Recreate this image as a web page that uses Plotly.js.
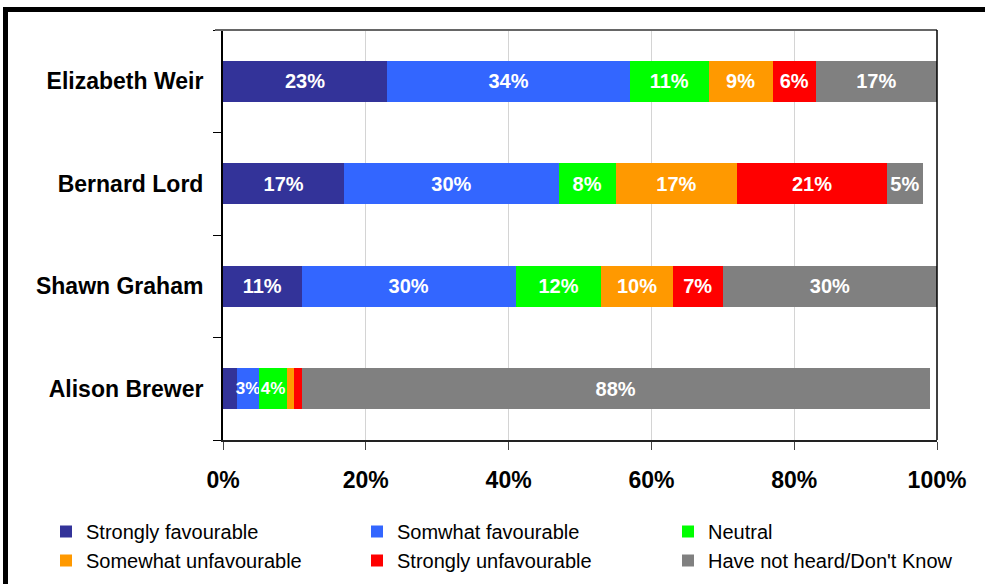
<!DOCTYPE html>
<html>
<head>
<meta charset="utf-8">
<script src="https://cdn.plot.ly/plotly-3.0.1.min.js"></script>
<style>
html,body{margin:0;padding:0;background:#fff;}
#chart{width:985px;height:584px;}
</style>
</head>
<body>
<div id="chart"></div>
<script>
const candidates = ["Elizabeth Weir", "Bernard Lord", "Shawn Graham", "Alison Brewer"];
const seriesNames = ["Strongly favourable", "Somwhat favourable", "Neutral", "Somewhat unfavourable", "Strongly unfavourable", "Have not heard/Don't Know"];
const stronglyFav = [23, 17, 11, 2];
const somewhatFav = [34, 30, 30, 3];
const neutral = [11, 8, 12, 4];
const somewhatUnfav = [9, 17, 10, 1];
const stronglyUnfav = [6, 21, 7, 1];
const notHeard = [17, 5, 30, 88];
const xTickVals = [0, 20, 40, 60, 80, 100];
const xTickText = ["0%", "20%", "40%", "60%", "80%", "100%"];
const colors = ["#333399", "#3366FF", "#00FF00", "#FF9900", "#FF0000", "#808080"];

const allSeries = [stronglyFav, somewhatFav, neutral, somewhatUnfav, stronglyUnfav, notHeard];
const FONT = "'Liberation Sans', Arial, Helvetica, sans-serif";

const traces = allSeries.map((vals, i) => ({
  type: "bar",
  orientation: "h",
  name: seriesNames[i],
  y: candidates,
  x: vals,
  width: 0.4,
  marker: {color: colors[i], line: {width: 0}},
  text: vals.map(v => v >= 3 ? v + "%" : ""),
  textposition: "inside",
  insidetextanchor: "middle",
  constraintext: "none",
  textangle: 0,
  textfont: {family: FONT, size: vals.map(v => v < 5 ? 17 : 20), color: "#ffffff", weight: "bold"},
  hoverinfo: "name+x"
}));

// pixel helpers for paper coords
const L = 223, R = 48, T = 30, B = 144, W = 985, H = 584;
const pw = W - L - R, ph = H - T - B;
const px = x => (x - L) / pw;
const py = y => (H - B - y) / ph;

const layout = {
  width: W, height: H,
  margin: {l: L, r: R, t: T, b: B, pad: 0, autoexpand: false},
  paper_bgcolor: "#ffffff",
  plot_bgcolor: "#ffffff",
  barmode: "stack",
  showlegend: true,
  font: {family: FONT, color: "#000"},
  xaxis: {
    range: [0, 100],
    tickvals: xTickVals,
    ticktext: xTickText,
    tickfont: {family: FONT, size: 23, weight: "bold", color: "#000"},
    showgrid: true,
    gridcolor: "#d4d4d4",
    gridwidth: 1,
    zeroline: false,
    showline: true,
    linecolor: "#222222",
    linewidth: 2,
    ticks: "outside",
    ticklen: 8,
    tickcolor: "#444444",
    tickwidth: 1,
    ticklabelstandoff: 10,
    automargin: false,
    fixedrange: true
  },
  yaxis: {
    type: "category",
    categoryorder: "array",
    categoryarray: candidates.slice().reverse(),
    tickfont: {family: FONT, size: 23, weight: "bold", color: "#000"},
    showgrid: false,
    zeroline: false,
    showline: true,
    linecolor: "#000000",
    linewidth: 2,
    ticks: "outside",
    tickson: "boundaries",
    ticklen: 8,
    tickcolor: "#000000",
    tickwidth: 1,
    ticklabelstandoff: 13,
    automargin: false,
    fixedrange: true
  },
  legend: {
    orientation: "h",
    x: px(46), xanchor: "left",
    y: py(512), yanchor: "top",
    traceorder: "normal",
    entrywidth: 266,
    entrywidthmode: "pixels",
    itemwidth: 30,
    font: {family: FONT, size: 20, color: "#000"},
    bgcolor: "rgba(0,0,0,0)",
    tracegroupgap: 0
  },
  shapes: [
    {type: "line", xref: "paper", yref: "paper", x0: px(215), x1: 1, y0: 1, y1: 1, line: {color: "#666666", width: 2}},
    {type: "line", xref: "paper", yref: "paper", x0: 1, x1: 1, y0: 0, y1: 1, line: {color: "#000000", width: 1.5}},
    {type: "rect", xref: "paper", yref: "paper", x0: px(3), x1: px(985), y0: py(12), y1: py(7), fillcolor: "#000", line: {width: 0}},
    {type: "rect", xref: "paper", yref: "paper", x0: px(3), x1: px(8), y0: py(584), y1: py(7), fillcolor: "#000", line: {width: 0}}
  ]
};

Plotly.newPlot("chart", traces, layout, {displayModeBar: false, staticPlot: true});
</script>
</body>
</html>
